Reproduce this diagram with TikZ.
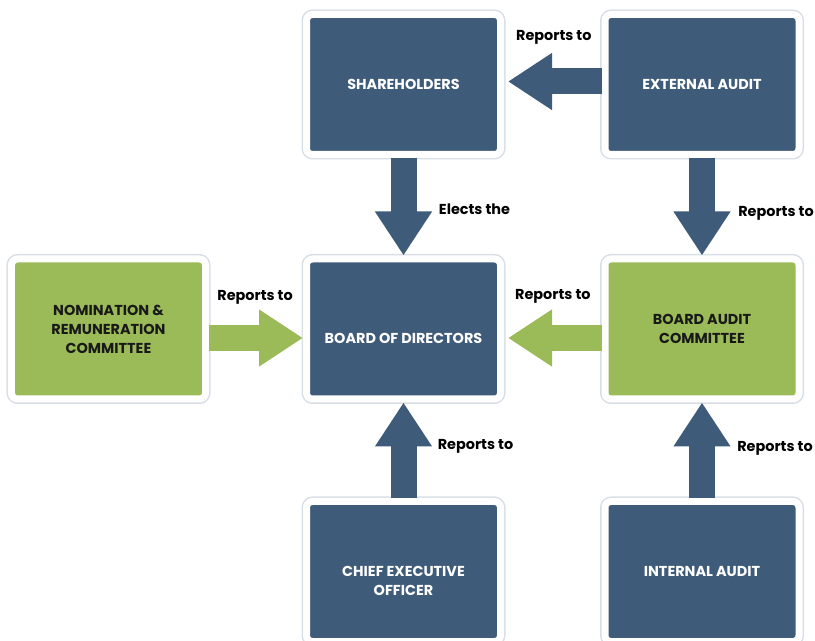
\documentclass[tikz,border=0pt]{standalone}
\usepackage{fontspec}
\setmainfont{Poppins}
\usetikzlibrary{arrows.meta}
\definecolor{govblue}{HTML}{3E5B7A}
\definecolor{govgreen}{HTML}{9BBB59}
\definecolor{rimgray}{HTML}{D8DEE6}

\begin{document}
\begin{tikzpicture}[font=\fontsize{8.2}{10.8}\selectfont\bfseries, line join=round,
		box/.style={rectangle, rounded corners=0.12cm, draw=white, line width=0.14cm, minimum width=3.88cm, minimum height=2.8cm, align=center, preaction={draw=rimgray, line width=0.2cm}},
		bluebox/.style={box, fill=govblue, text=white},
		greenbox/.style={box, fill=govgreen, text=black!90},
		blockarrow/.style={line width=0.52cm, -{Triangle[length=0.88cm, width=1.08cm]}},
		lbl/.style={inner sep=0pt, text=black}]
		\useasboundingbox (0,0) rectangle (16.3,-12.82);
		% boxes
		\node[bluebox] (share) at (8.07,-1.69) {SHAREHOLDERS};
		\node[bluebox] (extaudit) at (14.04,-1.69) {EXTERNAL AUDIT};
		\node[greenbox] (nomrem) at (2.17,-6.58) {NOMINATION \&\\REMUNERATION\\COMMITTEE};
		\node[bluebox, label={[lbl, text=white, yshift=-0.18cm]center:BOARD OF DIRECTORS}] (board) at (8.07,-6.58) {};
		\node[greenbox] (audcom) at (14.04,-6.58) {BOARD AUDIT\\COMMITTEE};
		\node[bluebox, label={[lbl, text=white, align=center, yshift=-0.19cm]center:CHIEF EXECUTIVE\\OFFICER}] (ceo) at (8.07,-11.43) {};
		\node[bluebox] (intaudit) at (14.04,-11.43) {INTERNAL AUDIT};
		% arrows
		\draw[blockarrow, govblue] ([yshift=0.06cm]extaudit.west) -- ([xshift=0.08cm, yshift=0.06cm]share.east) node[lbl, pos=0.51, yshift=0.89cm] {Reports to};
		\draw[blockarrow, govblue] (share.south) -- (board.north) node[lbl, pos=0.53, xshift=1.42cm] {Elects the};
		\draw[blockarrow, govblue] (extaudit.south) -- (audcom.north) node[lbl, pos=0.57, xshift=1.48cm] {Reports to};
		\draw[blockarrow, govgreen] ([yshift=-0.18cm]nomrem.east) -- ([yshift=-0.18cm]board.west) node[lbl, pos=0.49, yshift=0.82cm] {Reports to};
		\draw[blockarrow, govgreen] ([yshift=-0.18cm]audcom.west) -- ([xshift=0.08cm, yshift=-0.18cm]board.east) node[lbl, pos=0.52, yshift=0.84cm] {Reports to};
		\draw[blockarrow, govblue] (ceo.north) -- (board.south) node[lbl, pos=0.54, xshift=1.44cm] {Reports to};
		\draw[blockarrow, govblue] (intaudit.north) -- (audcom.south) node[lbl, pos=0.52, xshift=1.46cm] {Reports to};
	\end{tikzpicture}
\end{document}
